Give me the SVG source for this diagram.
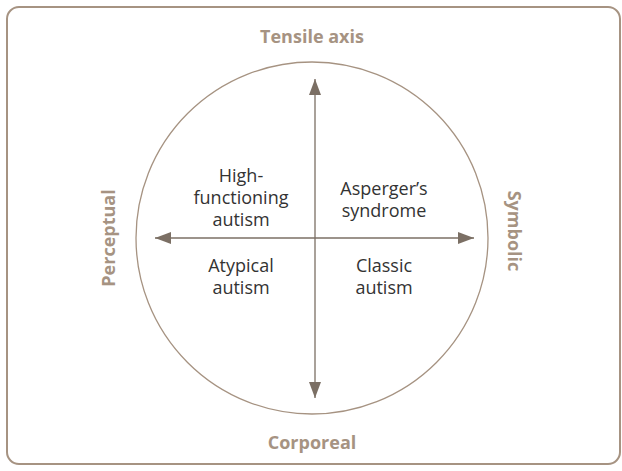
<svg xmlns="http://www.w3.org/2000/svg" width="622" height="471" viewBox="0 0 622 471">
  <style>
    .frame { fill: #ffffff; stroke: #a69382; stroke-width: 2; }
    .ring { fill: none; stroke: #a69382; stroke-width: 1.3; }
    .axis { stroke: #7b6f64; stroke-width: 1.3; fill: none; marker-end: url(#head); }
    .pole { font-family: "Open Sans", "Noto Sans", sans-serif; font-weight: bold; font-size: 18px; fill: #a69382; text-anchor: middle; }
    .zone { font-family: "Open Sans", "Noto Sans", sans-serif; font-size: 18px; fill: #333333; text-anchor: middle; }
  </style>
  <defs>
    <marker id="head" markerWidth="16" markerHeight="12" refX="16" refY="6" orient="auto" markerUnits="userSpaceOnUse">
      <path d="M0,0 L16,6 L0,12 Z" fill="#7b6f64"/>
    </marker>
  </defs>

  <rect class="frame" x="7" y="7" width="613" height="457" rx="12" ry="12"/>
  <circle class="ring" cx="312" cy="238" r="176"/>

  <g id="connectors">
    <line class="axis" x1="315" y1="238" x2="315" y2="79"/>
    <line class="axis" x1="315" y1="238" x2="315" y2="398"/>
    <line class="axis" x1="315" y1="238" x2="155" y2="238"/>
    <line class="axis" x1="315" y1="238" x2="474" y2="238"/>
  </g>

  <g id="tensile"><text class="pole" x="312" y="43">Tensile axis</text></g>
  <g id="corporeal"><text class="pole" x="312" y="449">Corporeal</text></g>
  <g id="perceptual"><text class="pole" transform="translate(115,238) rotate(-90)">Perceptual</text></g>
  <g id="symbolic"><text class="pole" transform="translate(508,231) rotate(90)">Symbolic</text></g>

  <g id="high-functioning">
    <text class="zone" x="241" y="182">High-</text>
    <text class="zone" x="241" y="204">functioning</text>
    <text class="zone" x="241" y="226">autism</text>
  </g>
  <g id="asperger">
    <text class="zone" x="384" y="195">Asperger’s</text>
    <text class="zone" x="384" y="217">syndrome</text>
  </g>
  <g id="atypical">
    <text class="zone" x="241" y="272">Atypical</text>
    <text class="zone" x="241" y="294">autism</text>
  </g>
  <g id="classic">
    <text class="zone" x="384" y="272">Classic</text>
    <text class="zone" x="384" y="294">autism</text>
  </g>
</svg>
